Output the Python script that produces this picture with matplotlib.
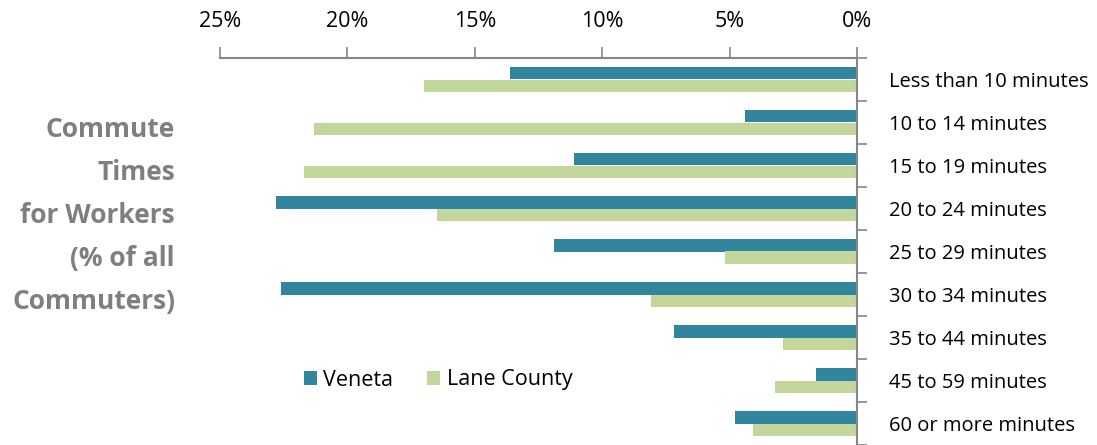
import matplotlib.pyplot as plt
import numpy as np

categories = ["Less than 10 minutes", "10 to 14 minutes", "15 to 19 minutes",
              "20 to 24 minutes", "25 to 29 minutes", "30 to 34 minutes",
              "35 to 44 minutes", "45 to 59 minutes", "60 or more minutes"]
veneta = [13.6, 4.4, 11.1, 22.8, 11.9, 22.6, 7.2, 1.6, 4.8]
lane_county = [17.0, 21.3, 21.7, 16.5, 5.2, 8.1, 2.9, 3.2, 4.1]
xticks = [25, 20, 15, 10, 5, 0]

plt.rcParams['font.family'] = ['Open Sans', 'DejaVu Sans']

fig = plt.figure(figsize=(10.97, 4.45), dpi=100)
ax = fig.add_axes([220 / 1097, 0.0, (857 - 220) / 1097, 1 - 58 / 445])

y = np.arange(len(categories))
h = 0.28
ax.barh(y - h / 2, veneta, height=h, color="#31859C", label="Veneta")
ax.barh(y + h / 2, lane_county, height=h, color="#C3D69B", label="Lane County")

ax.set_xlim(25, 0)
ax.set_ylim(len(categories) - 0.5, -0.5)
ax.set_xticks(xticks)
ax.set_xticklabels([f"{v}%" for v in xticks], fontsize=15.5)
ax.xaxis.tick_top()

ax.yaxis.tick_right()
ax.set_yticks(y)
ax.set_yticklabels(categories, fontsize=14.5)
ax.set_yticks(np.arange(-0.5, len(categories), 1), minor=True)
ax.tick_params(axis="y", which="major", length=0, pad=23)
ax.tick_params(axis="y", which="minor", length=7, color="#868686", width=1.2)
ax.tick_params(axis="x", length=8, color="#868686", width=1.2, pad=11)

for s in ["left", "bottom"]:
    ax.spines[s].set_visible(False)
for s in ["top", "right"]:
    ax.spines[s].set_color("#868686")
    ax.spines[s].set_linewidth(1.5)

fig.text(175 / 1097, 1 - 116 / 445,
         "Commute\nTimes\nfor Workers\n(% of all\nCommuters)",
         ha="right", va="top", fontsize=19, fontweight="bold",
         color="#7F7F7F", linespacing=1.76, transform=fig.transFigure)

leg = ax.legend(loc="center", bbox_to_anchor=(438 / 1097, 1 - 380 / 445),
                bbox_transform=fig.transFigure, ncol=2, frameon=False,
                fontsize=15.5, handlelength=0.6, handleheight=0.6,
                handletextpad=0.3, columnspacing=1.6)

fig.savefig("out.png", dpi=100)
